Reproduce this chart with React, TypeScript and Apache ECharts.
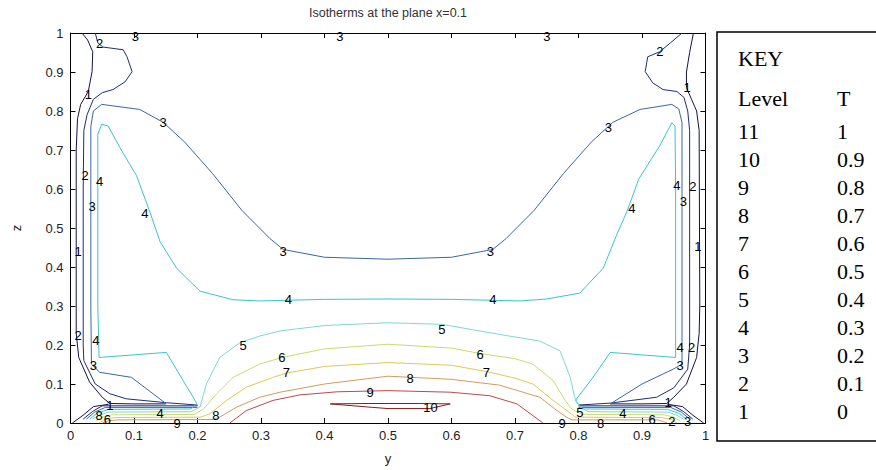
import React, { useEffect, useRef } from 'react';
import * as echarts from 'echarts';

type P = [number, number];

// ---- contour lines (y, z) per level ----
const LEVEL1: P[][] = [
  [[0.018,1.0],[0.027,0.982],[0.035,0.952],[0.034,0.901],[0.028,0.85],[0.016,0.817],[0.011,0.78],[0.009,0.7],[0.009,0.3],[0.009,0.23],[0.013,0.168],[0.03,0.105],[0.05,0.066],[0.062,0.05],[0.1,0.049],[0.15,0.049]],
  [[0.003,0.0],[0.02,0.02],[0.036,0.042],[0.06,0.048]],
  [[0.981,1.0],[0.975,0.95],[0.97,0.9],[0.97,0.86],[0.978,0.83],[0.986,0.8],[0.99,0.75],[0.991,0.3],[0.99,0.23],[0.986,0.168],[0.97,0.1],[0.95,0.066],[0.939,0.05],[0.9,0.049],[0.85,0.049]],
  [[0.997,0.0],[0.98,0.02],[0.964,0.042],[0.94,0.048]],
];
const LEVEL2: P[][] = [
  [[0.039,1.0],[0.043,0.975],[0.051,0.964],[0.083,0.957],[0.089,0.939],[0.097,0.901],[0.086,0.875],[0.067,0.855],[0.05,0.847],[0.036,0.83],[0.026,0.79],[0.021,0.75],[0.02,0.6],[0.02,0.2],[0.021,0.16],[0.039,0.1],[0.062,0.075],[0.088,0.062],[0.151,0.052],[0.2,0.046]],
  [[0.02,0.01],[0.035,0.03],[0.05,0.044],[0.2,0.044]],
  [[0.963,1.0],[0.945,0.975],[0.928,0.952],[0.909,0.939],[0.905,0.901],[0.917,0.872],[0.933,0.855],[0.955,0.85],[0.966,0.835],[0.972,0.8],[0.975,0.75],[0.975,0.6],[0.975,0.2],[0.972,0.138],[0.95,0.09],[0.923,0.066],[0.85,0.051],[0.8,0.046]],
  [[0.98,0.01],[0.965,0.03],[0.95,0.044],[0.8,0.044]],
];
const LEVEL3: P[][] = [
  [[0.151,0.049],[0.096,0.117],[0.046,0.13],[0.033,0.151],[0.032,0.3],[0.032,0.6],[0.032,0.76],[0.036,0.8],[0.049,0.817],[0.109,0.804],[0.146,0.771],[0.18,0.72],[0.224,0.639],[0.27,0.545],[0.314,0.473],[0.335,0.445],[0.4,0.425],[0.5,0.42],[0.6,0.425],[0.665,0.445],[0.686,0.473],[0.73,0.545],[0.776,0.639],[0.82,0.72],[0.854,0.771],[0.897,0.804],[0.947,0.817],[0.958,0.805],[0.963,0.77],[0.963,0.6],[0.963,0.3],[0.963,0.151],[0.949,0.138],[0.9,0.1],[0.85,0.049]],
  [[0.025,0.01],[0.038,0.028],[0.055,0.04],[0.2,0.04]],
  [[0.975,0.01],[0.962,0.028],[0.945,0.04],[0.8,0.04]],
];
const LEVEL4: P[][] = [
  [[0.03,0.01],[0.042,0.025],[0.06,0.035],[0.19,0.036],[0.199,0.05],[0.175,0.115],[0.151,0.181],[0.045,0.168],[0.043,0.3],[0.043,0.6],[0.043,0.74],[0.049,0.766],[0.059,0.762],[0.08,0.7],[0.104,0.634],[0.125,0.541],[0.141,0.465],[0.167,0.397],[0.204,0.338],[0.256,0.316],[0.298,0.313],[0.4,0.317],[0.5,0.318],[0.6,0.317],[0.708,0.313],[0.75,0.318],[0.802,0.333],[0.839,0.397],[0.86,0.482],[0.876,0.541],[0.895,0.626],[0.928,0.711],[0.947,0.77],[0.952,0.762],[0.953,0.6],[0.953,0.3],[0.953,0.168],[0.85,0.181],[0.822,0.115],[0.795,0.058],[0.805,0.036],[0.94,0.035],[0.958,0.025],[0.97,0.01]],
];
const LEVEL5: P[][] = [
  [[0.035,0.01],[0.045,0.02],[0.06,0.028],[0.19,0.029],[0.204,0.041],[0.214,0.1],[0.235,0.168],[0.267,0.206],[0.298,0.223],[0.33,0.236],[0.4,0.25],[0.5,0.257],[0.585,0.253],[0.676,0.227],[0.739,0.21],[0.771,0.185],[0.787,0.117],[0.794,0.066],[0.802,0.042],[0.815,0.029],[0.94,0.028],[0.955,0.02],[0.965,0.01]],
];
const LEVEL6: P[][] = [
  [[0.04,0.005],[0.05,0.015],[0.065,0.021],[0.195,0.022],[0.209,0.035],[0.23,0.075],[0.256,0.117],[0.298,0.151],[0.333,0.168],[0.4,0.19],[0.5,0.202],[0.6,0.192],[0.645,0.178],[0.7,0.165],[0.728,0.151],[0.76,0.109],[0.779,0.058],[0.79,0.035],[0.805,0.022],[0.935,0.021],[0.95,0.015],[0.96,0.005]],
];
const LEVEL7: P[][] = [
  [[0.045,0.0],[0.055,0.01],[0.07,0.014],[0.205,0.015],[0.22,0.024],[0.246,0.058],[0.277,0.092],[0.319,0.117],[0.34,0.128],[0.4,0.145],[0.5,0.155],[0.6,0.148],[0.655,0.132],[0.7,0.115],[0.728,0.1],[0.76,0.058],[0.781,0.033],[0.795,0.015],[0.93,0.014],[0.945,0.01],[0.955,0.0]],
];
const LEVEL8: P[][] = [
  [[0.05,0.0],[0.06,0.006],[0.075,0.008],[0.225,0.009],[0.235,0.015],[0.262,0.041],[0.298,0.066],[0.33,0.079],[0.4,0.1],[0.5,0.12],[0.6,0.112],[0.676,0.097],[0.739,0.066],[0.766,0.032],[0.781,0.015],[0.79,0.008],[0.925,0.008],[0.94,0.0]],
];
const LEVEL9: P[][] = [
  [[0.251,0.0],[0.277,0.032],[0.319,0.058],[0.361,0.072],[0.42,0.08],[0.5,0.083],[0.598,0.079],[0.66,0.07],[0.703,0.049],[0.744,0.0]],
];
const LEVEL10: P[][] = [
  [[0.409,0.049],[0.47,0.05],[0.55,0.05],[0.598,0.049],[0.566,0.037],[0.5,0.037],[0.476,0.04],[0.409,0.049]],
];

const LEVEL_COLORS = ['#12124e', '#1e2c78', '#3a66a8', '#38c4d4', '#7cd8d0', '#c8dc6c', '#e4c850', '#d49a5c', '#c04848', '#8c1818'];

// ---- contour labels (y, z, text) ----
const LABEL_Y = [0.046,0.028,0.146,0.928,0.971,0.847,0.102,0.424,0.75, 0.023,0.046,0.034,0.012,0.955,0.98,0.965,0.988,0.117,0.884, 0.012,0.04,0.036,0.062,0.96,0.978,0.96,0.941, 0.141,0.229,0.168,0.045,0.058,0.802,0.87,0.916,0.947,0.972,0.774,0.835, 0.335,0.661,0.343,0.665,0.272,0.585,0.333,0.645,0.34,0.655,0.535,0.472,0.567];
const LABEL_Z = [0.972,0.842,0.771,0.952,0.86,0.758,0.99,0.99,0.99, 0.634,0.618,0.555,0.44,0.608,0.606,0.567,0.453,0.537,0.55, 0.225,0.211,0.147,0.046,0.193,0.193,0.148,0.053, 0.025,0.02,0.0,0.02,0.008,0.028,0.025,0.01,0.005,0.005,0.0,0.0, 0.44,0.44,0.316,0.316,0.198,0.24,0.168,0.176,0.13,0.13,0.113,0.079,0.041];
const LABEL_TEXT = ['2','1','3','2','1','3','3','3','3', '2','4','3','1','4','2','3','1','4','4', '2','4','3','1','4','2','3','1', '4','8','9','8','6','5','4','6','2','3','9','8', '3','3','4','4','5','5','6','6','7','7','8','9','10'];

// ---- key ----
const KEY_LEVELS = ['11','10','9','8','7','6','5','4','3','2','1'];
const KEY_T = ['1','0.9','0.8','0.7','0.6','0.5','0.4','0.3','0.2','0.1','0'];

const TITLE = 'Isotherms at the plane x=0.1';

export default function App() {
  const ref = useRef<HTMLDivElement>(null);
  useEffect(() => {
    document.body.style.margin = '0';
    const chart = echarts.init(ref.current!, null, { renderer: 'svg' });
    const levels = [LEVEL1, LEVEL2, LEVEL3, LEVEL4, LEVEL5, LEVEL6, LEVEL7, LEVEL8, LEVEL9, LEVEL10];
    const series: any[] = [];
    levels.forEach((segs, i) => {
      segs.forEach((seg) => {
        series.push({
          type: 'line', data: seg, showSymbol: false, symbol: 'none', silent: true,
          lineStyle: { color: LEVEL_COLORS[i], width: 1 }, z: 2,
        });
      });
    });
    series.push({
      type: 'scatter', symbolSize: 0, silent: true, z: 5,
      itemStyle: { color: '#000', opacity: 0 },
      data: LABEL_TEXT.map((t, i) => ({ value: [LABEL_Y[i], LABEL_Z[i]], name: t })),
      label: {
        show: true, position: [0, 0], align: 'center', verticalAlign: 'middle', formatter: '{b}', color: '#000',
        textBorderWidth: 0, opacity: 1,
        fontSize: 13, fontFamily: 'Liberation Sans, Arial, sans-serif',
      },
    });
    const fmt = (v: number) => String(Math.round(v * 10) / 10);
    const lab = { color: '#222', fontSize: 13, fontFamily: 'Liberation Sans, Arial, sans-serif' };
    const axisCommon = {
      type: 'value', min: 0, max: 1, interval: 0.1,
      axisLine: { show: true, onZero: false, lineStyle: { color: '#000', width: 1 } },
      axisTick: { show: true, inside: true, length: 5, lineStyle: { color: '#000' } },
      splitLine: { show: false },
    };
    const font = '22px "Liberation Serif", serif';
    const key: any[] = [
      { type: 'rect', shape: { x: 717, y: 32, width: 175, height: 409 }, style: { fill: '#fff', stroke: '#000', lineWidth: 1.5 } },
      { type: 'text', x: 738, y: 58, style: { text: 'KEY', font, fill: '#000', textVerticalAlign: 'middle' } },
      { type: 'text', x: 738, y: 98, style: { text: 'Level', font, fill: '#000', textVerticalAlign: 'middle' } },
      { type: 'text', x: 837, y: 98, style: { text: 'T', font, fill: '#000', textVerticalAlign: 'middle' } },
    ];
    KEY_LEVELS.forEach((l, i) => {
      key.push({ type: 'text', x: 738, y: 131 + 28 * i, style: { text: l, font, fill: '#000', textVerticalAlign: 'middle' } });
      key.push({ type: 'text', x: 837, y: 131 + 28 * i, style: { text: KEY_T[i], font, fill: '#000', textVerticalAlign: 'middle' } });
    });
    key.push({ type: 'text', x: 388, y: 13, style: { text: TITLE, font: '12.5px "Liberation Sans", Arial, sans-serif', fill: '#333', textAlign: 'center', textVerticalAlign: 'middle' } });
    chart.setOption({
      animation: false,
      backgroundColor: '#fff',
      grid: { left: 70.5, right: 170.5, top: 33, bottom: 44 },
      xAxis: [
        { ...axisCommon, position: 'bottom', name: 'y', nameLocation: 'middle', nameGap: 29,
          nameTextStyle: { color: '#222', fontSize: 13, fontFamily: 'Liberation Sans, Arial, sans-serif' },
          axisLabel: { ...lab, formatter: fmt, margin: 6 } },
        { ...axisCommon, position: 'top', axisLabel: { show: false } },
      ],
      yAxis: [
        { ...axisCommon, position: 'left', name: 'z', nameLocation: 'middle', nameGap: 48,
          nameTextStyle: { color: '#222', fontSize: 13, fontFamily: 'Liberation Sans, Arial, sans-serif' },
          axisLabel: { ...lab, formatter: fmt, margin: 7 } },
        { ...axisCommon, position: 'right', axisLabel: { show: false } },
      ],
      series,
      graphic: key,
    });
    return () => chart.dispose();
  }, []);
  return <div ref={ref} style={{ position: 'absolute', left: 0, top: 0, width: 876, height: 470 }} />;
}
